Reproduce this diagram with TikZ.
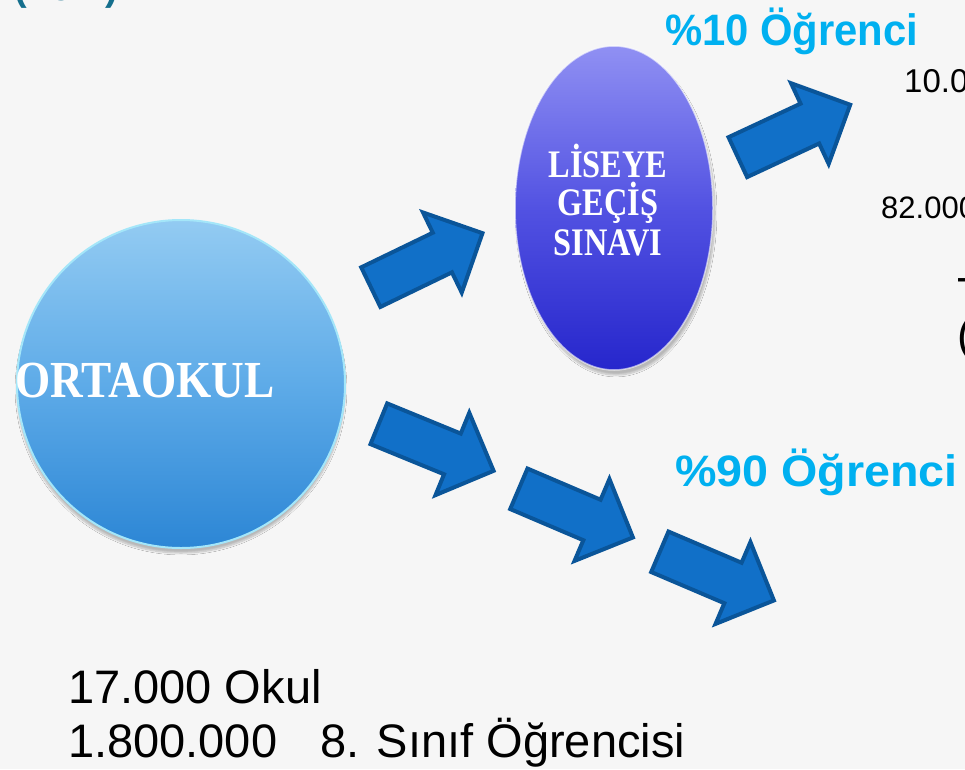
\documentclass[tikz,border=0pt]{standalone}
\usepackage{fontspec}
\setmainfont{Liberation Serif}
\setsansfont{Liberation Sans}
\usetikzlibrary{shapes.geometric,shapes.arrows,shadows.blur}
\definecolor{bgc}{HTML}{F6F6F6}
\definecolor{arrfill}{HTML}{1170C8}
\definecolor{arrline}{HTML}{0A5599}
\definecolor{pct}{HTML}{00B0F0}
\definecolor{teal}{HTML}{156F8D}
\definecolor{circtop}{HTML}{93CBF2}
\definecolor{circmid}{HTML}{5EABE8}
\definecolor{circbot}{HTML}{2C86D5}
\definecolor{circrim}{HTML}{A4E6F9}
\definecolor{elltop}{HTML}{9090F3}
\definecolor{ellmid}{HTML}{5252E2}
\definecolor{ellbot}{HTML}{2626CC}
\tikzset{
  blockarrow/.style={single arrow, fill=arrfill, draw=arrline, line width=4pt,
    line join=miter, minimum height=124pt, inner xsep=0pt, inner ysep=20pt,
    single arrow head extend=22.5pt, single arrow tip angle=90,
    single arrow head indent=0pt, anchor=tail},
  pcttext/.style={anchor=base west, inner sep=0pt, text=pct,
    font=\sffamily\bfseries\fontsize{44}{50}\selectfont},
  bottomtext/.style={anchor=base west, inner sep=0pt, text=black,
    font=\sffamily\fontsize{47}{52}\selectfont},
  edgetext/.style={anchor=base west, inner sep=0pt, text=black,
    font=\sffamily\fontsize{#1}{#1}\selectfont},
  lgsline/.style={anchor=base, inner sep=0pt, text=white, xscale=0.83,
    font=\bfseries\fontsize{39}{40}\selectfont},
}
\begin{document}
\begin{tikzpicture}[x=1pt,y=1pt]
\useasboundingbox (0,0) rectangle (965,-769);
\clip (0,0) rectangle (965,-769);
\fill[bgc] (0,0) rectangle (965,-769);

% top-left cut title fragment
\node[anchor=base west, inner sep=0pt, text=teal,
  font=\sffamily\bfseries\fontsize{38}{40}\selectfont] (title) at (14,0) {(Yeni)};

% ORTAOKUL circle
\node[circle, minimum size=328pt, inner sep=0pt, draw=circrim, line width=2pt,
  top color=circtop, bottom color=circbot, middle color=circmid,
  blur shadow={shadow xshift=0pt, shadow yshift=-5pt, shadow blur steps=8, shadow opacity=25}]
  (ortaokul) at (181,-384) {};
\node[anchor=base, inner sep=0pt, text=white, xscale=0.87,
  font=\bfseries\fontsize{52}{52}\selectfont] (ortalabel) at (145,-397) {ORTAOKUL};

% LGS ellipse
\node[ellipse, minimum width=198pt, minimum height=324pt, inner sep=0pt,
  draw=white, draw opacity=0.6, line width=1.5pt,
  top color=elltop, bottom color=ellbot, middle color=ellmid,
  blur shadow={shadow xshift=2pt, shadow yshift=-5pt, shadow blur steps=8, shadow opacity=25}]
  (lgs) at (614,-208) {};
\node[lgsline] (l1) at (608,-177) {LİSEYE};
\node[lgsline] (l2) at (608,-215) {GEÇİŞ};
\node[lgsline] (l3) at (608,-255) {SINAVI};

% block arrows
\node[blockarrow, rotate=25.8] (a1) at (369,-288) {};
\node[blockarrow, rotate=25.0] (a2) at (736,-158) {};
\node[blockarrow, rotate=-22.3] (a3) at (377,-423) {};
\node[blockarrow, rotate=-23.1] (a4) at (517,-488) {};
\node[blockarrow, rotate=-23.1] (a5) at (658,-551) {};

% percentage labels
\node[pcttext, xscale=0.95] (p10) at (665,-45) {\%10 Öğrenci};
\node[pcttext, xscale=1.06] (p90) at (675,-486) {\%90 Öğrenci};

% right edge cut texts
\node[edgetext=33] (r1) at (904,-92) {10.000};
\node[edgetext=31] (r2) at (881,-218) {82.000};
\node[edgetext=45] (r3) at (957,-309) {T};
\node[edgetext=45] (r4) at (957,-350) {(};

% bottom texts
\node[bottomtext] (b1) at (68,-703) {17.000 Okul};
\node[bottomtext] (b2) at (68,-757) {1.800.000};
\node[bottomtext] (b3) at (320,-757) {8. Sınıf Öğrencisi};
\end{tikzpicture}
\end{document}
